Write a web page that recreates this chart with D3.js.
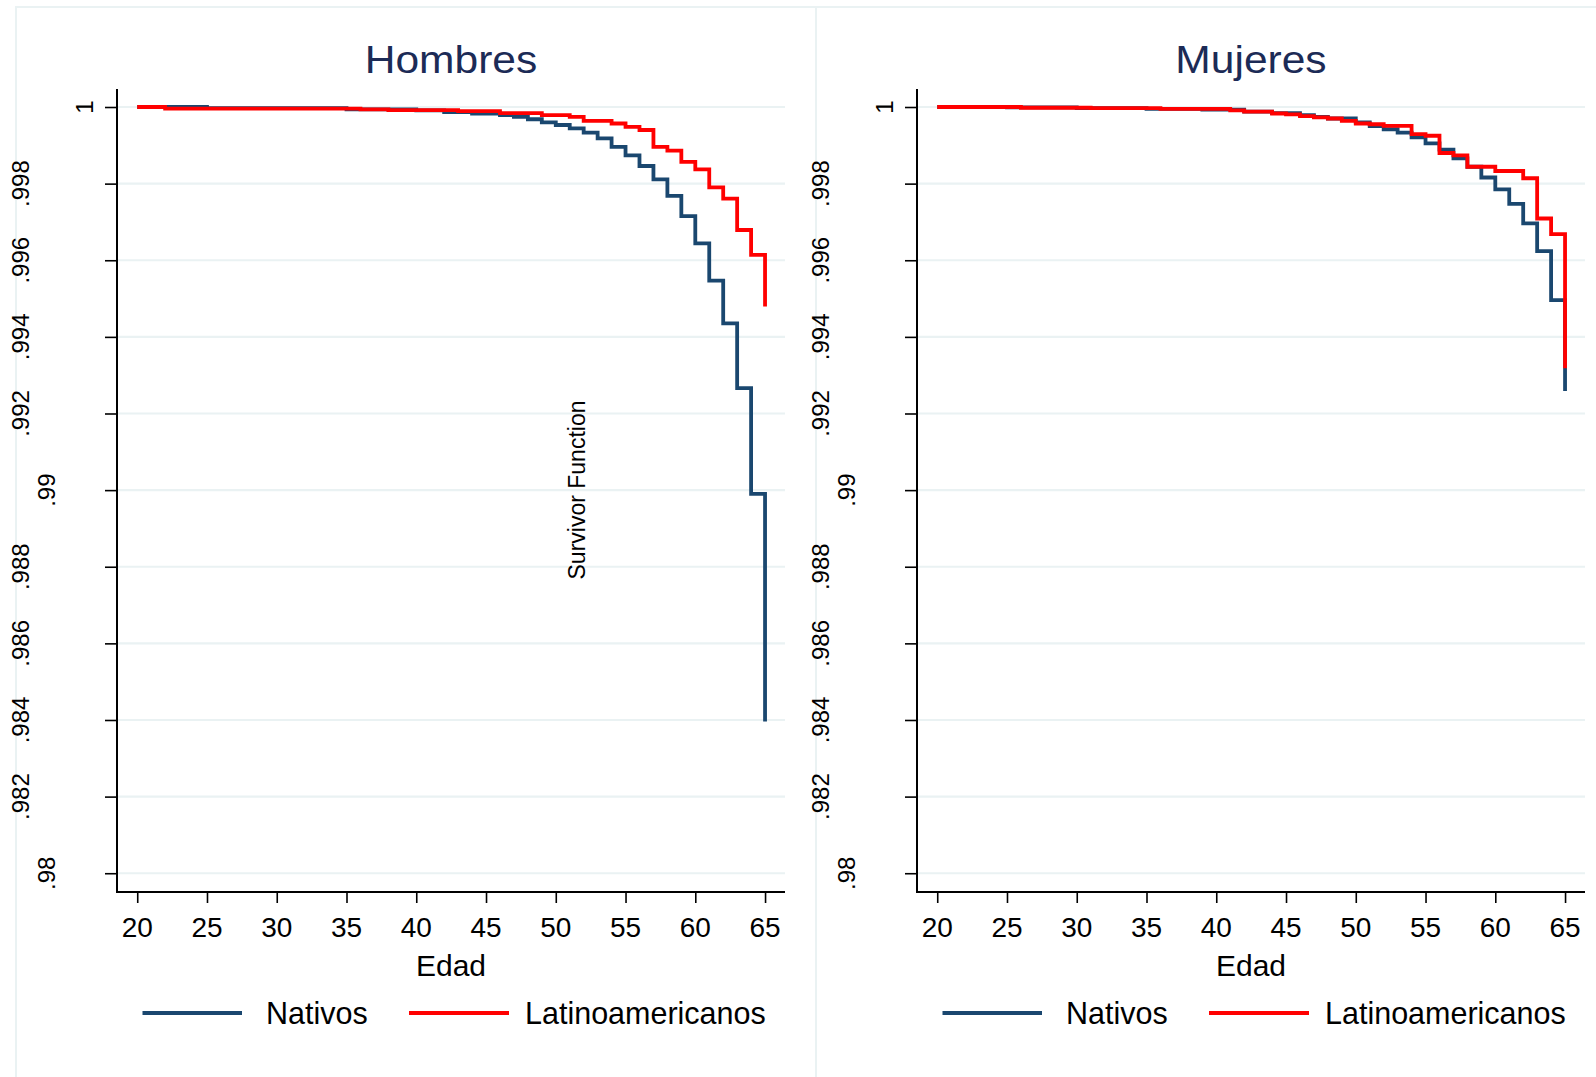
<!DOCTYPE html>
<html><head><meta charset="utf-8">
<script src="https://cdn.jsdelivr.net/npm/d3@7"></script>
<style>
body{margin:0;background:#fff}
svg{display:block}
text{font-family:"Liberation Sans",Arial,sans-serif}
</style>
</head><body>
<svg id="c" width="1596" height="1077"></svg>
<script>
const panelTitles = ["Hombres", "Mujeres"];
const seriesNames = ["Nativos", "Latinoamericanos"];
const seriesColors = ["#1a476f", "#ff0000"];
const xTicks = [20, 25, 30, 35, 40, 45, 50, 55, 60, 65];
const yTicks = [1, 0.998, 0.996, 0.994, 0.992, 0.99, 0.988, 0.986, 0.984, 0.982, 0.98];
const yTickLabels = ["1", ".998", ".996", ".994", ".992", ".99", ".988", ".986", ".984", ".982", ".98"];
const xTitle = "Edad";
const yTitle = "Survivor Function";

// Hombres - Nativos
const hombresNativosAge  = [20, 25, 35, 40, 42, 44, 46, 47, 48, 49, 50, 51, 52, 53, 54, 55, 56, 57, 58, 59, 60, 61, 62, 63, 64, 65];
const hombresNativosSurv = [1.0, .99997, .99994, .99991, .99987, .99983, .99979, .99974, .99968, .99960, .99953, .99944, .99933, .99918, .99896, .99874, .99846, .99811, .99768, .99715, .99644, .99547, .99435, .99266, .98990, .98396];
// Hombres - Latinoamericanos
const hombresLatinoAge  = [20, 22, 36, 38, 43, 46, 49, 51, 52, 54, 55, 56, 57, 58, 59, 60, 61, 62, 63, 64, 65];
const hombresLatinoSurv = [1.0, .99996, .99994, .99992, .99989, .99984, .99979, .99974, .99964, .99957, .99948, .99940, .99896, .99886, .99857, .99837, .99790, .99761, .99679, .99614, .99479];
// Mujeres - Nativos
const mujeresNativosAge  = [20, 25, 30, 35, 39, 42, 44, 46, 47, 48, 50, 51, 52, 53, 54, 55, 56, 57, 58, 59, 60, 61, 62, 63, 64, 65];
const mujeresNativosSurv = [1.0, .99999, .99997, .99995, .99993, .99988, .99984, .99979, .99974, .99970, .99960, .99950, .99942, .99933, .99921, .99905, .99889, .99866, .99844, .99816, .99785, .99747, .99696, .99624, .99496, .99259];
// Mujeres - Latinoamericanos
const mujeresLatinoAge  = [20, 26, 31, 36, 41, 42, 44, 45, 46, 47, 48, 49, 50, 51, 52, 54, 55, 56, 57, 58, 60, 62, 63, 64, 65];
const mujeresLatinoSurv = [1.0, .99998, .99997, .99995, .99991, .99988, .99983, .99981, .99976, .99973, .99970, .99964, .99957, .99955, .99951, .99929, .99925, .99880, .99874, .99844, .99833, .99814, .99709, .99668, .99318];

const panels = [
  {title: panelTitles[0], showYTitle: true,
   series: [{age: hombresNativosAge, surv: hombresNativosSurv}, {age: hombresLatinoAge, surv: hombresLatinoSurv}]},
  {title: panelTitles[1], showYTitle: false,
   series: [{age: mujeresNativosAge, surv: mujeresNativosSurv}, {age: mujeresLatinoAge, surv: mujeresLatinoSurv}]}
];

const svg = d3.select("#c");
const gridCol = "#eaf2f3";

panels.forEach((p, i) => {
  const dx = i * 800;
  const g = svg.append("g").attr("transform", `translate(${dx},0)`);

  // panel frame
  g.append("rect").attr("x", 16).attr("y", 7).attr("width", 800).attr("height", 1100)
    .attr("fill", "none").attr("stroke", gridCol).attr("stroke-width", 2);

  const x = d3.scaleLinear().domain([18.55, 66.43]).range([117, 785]);
  const y = d3.scaleLinear().domain([0.97951, 1.00047]).range([892, 89]);

  // grid
  g.selectAll("line.grid").data(yTicks).enter().append("line")
    .attr("x1", 117).attr("x2", 785)
    .attr("y1", d => y(d)).attr("y2", d => y(d))
    .attr("stroke", gridCol).attr("stroke-width", 2.2);

  // y axis
  const ya = g.append("g").attr("transform", "translate(117,0)")
    .call(d3.axisLeft(y).tickValues(yTicks).tickSize(12).tickFormat(""));
  ya.select(".domain").remove();
  ya.selectAll(".tick line").attr("stroke", "#000").attr("stroke-width", 1.6);
  g.append("line").attr("x1", 117).attr("x2", 117).attr("y1", 89).attr("y2", 893)
    .attr("stroke", "#000").attr("stroke-width", 2);

  // x axis
  const xa = g.append("g").attr("transform", "translate(0,892)")
    .call(d3.axisBottom(x).tickValues(xTicks).tickSize(11).tickFormat(""));
  xa.select(".domain").remove();
  xa.selectAll(".tick line").attr("stroke", "#000").attr("stroke-width", 1.6);
  g.append("line").attr("x1", 116).attr("x2", 785).attr("y1", 892).attr("y2", 892)
    .attr("stroke", "#000").attr("stroke-width", 2);

  // x tick labels
  g.selectAll("text.xl").data(xTicks).enter().append("text")
    .attr("x", d => x(d)).attr("y", 937)
    .attr("text-anchor", "middle").attr("font-size", 28).attr("fill", "#000")
    .text(d => d);

  // y tick labels (rotated, Stata-like placement)
  yTicks.forEach((v, k) => {
    const t = g.append("text")
      .attr("text-anchor", "middle").attr("font-size", 24).attr("fill", "#000")
      .attr("dy", "0.36em")
      .text(yTickLabels[k]);
    const w = t.node().getComputedTextLength();
    const cx = 109.5 - 1.9 * w;
    t.attr("transform", `translate(${cx},${y(v)}) rotate(-90)`);
  });

  // curves
  const line = d3.line().x(d => x(d[0])).y(d => y(d[1])).curve(d3.curveStepAfter);
  p.series.forEach((s, j) => {
    const pts = s.age.map((a, k) => [a, s.surv[k]]);
    g.append("path").attr("d", line(pts)).attr("fill", "none")
      .attr("stroke", seriesColors[j]).attr("stroke-width", 3.8)
      .attr("stroke-linejoin", "miter");
  });

  // title
  g.append("text").attr("x", 451).attr("y", 73).attr("text-anchor", "middle")
    .attr("font-size", 38).attr("fill", "#1c2b56")
    .attr("transform", "translate(451,0) scale(1.12,1) translate(-451,0)")
    .text(p.title);

  // x title
  g.append("text").attr("x", 451).attr("y", 976).attr("text-anchor", "middle")
    .attr("font-size", 30).attr("fill", "#000").text(xTitle);

  // y title
  if (p.showYTitle) {
    g.append("text").attr("transform", "translate(577,490) rotate(-90)")
      .attr("text-anchor", "middle").attr("dy", "0.36em")
      .attr("font-size", 23).attr("fill", "#000").text(yTitle);
  }

  // legend
  const legX = [[142.5, 242, 266], [409, 509, 525]];
  seriesNames.forEach((nm, j) => {
    g.append("line").attr("x1", legX[j][0]).attr("x2", legX[j][1])
      .attr("y1", 1013).attr("y2", 1013)
      .attr("stroke", seriesColors[j]).attr("stroke-width", 4);
    g.append("text").attr("x", legX[j][2]).attr("y", 1024)
      .attr("font-size", 30.5).attr("fill", "#000").text(nm);
  });
});
</script>
</body></html>
